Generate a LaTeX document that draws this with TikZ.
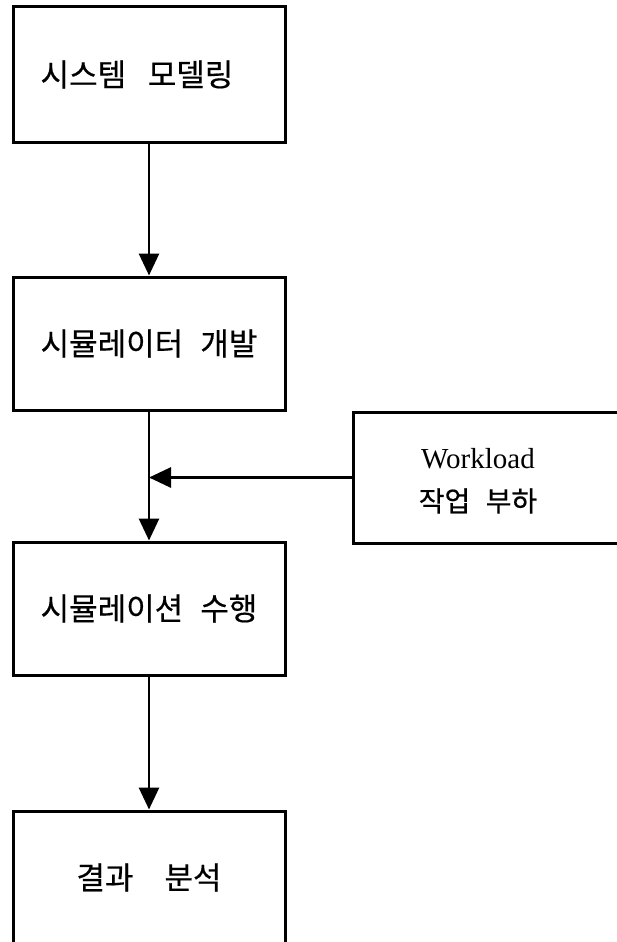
\documentclass[tikz,border=0pt]{standalone}
\usepackage{fontspec}
\setmainfont{Liberation Serif}
\newfontfamily\kr[FakeBold=0.5]{Noto Sans CJK KR}
\usetikzlibrary{arrows.meta}
\begin{document}
\begin{tikzpicture}[x=1pt,y=-1pt,
  stage/.style={draw, line width=3pt, minimum width=272pt, minimum height=133pt,
    inner sep=0pt, font=\kr\fontsize{31}{36}\selectfont},
  inputbox/.style={draw, line width=3pt, minimum width=290pt, minimum height=131pt, inner sep=0pt},
  label/.style={align=center, font=\fontsize{29}{43}\selectfont},
  flow/.style={line width=2.8pt, -{Triangle[length=22pt,width=20pt]}},
]
\useasboundingbox (0,0) rectangle (617,942);
\clip (0,0) rectangle (617,942);

% process stages
\node[stage, minimum height=135pt] (model) at (149,74.5) {시스템\hspace{0.7em}모델링\hspace*{24pt}};
\node[stage] (dev)  at (149,343.5) {시뮬레이터\hspace{0.55em}개발};
\node[stage] (run)  at (149,608.5) {시뮬레이션\hspace{0.55em}수행};
\node[stage] (ana)  at (149,877.5) {결과\hspace{1.0em}분석};

% workload input
\node[inputbox] (wl) at (498,477.5) {};
\node[label] (wltext) at (478,481) {Workload\\{\kr\fontsize{28}{43}\selectfont 작업\hspace{0.55em}부하}};

% connectors
\draw[flow] (model.south) -- (dev.north);
\draw[flow] (dev.south) -- (run.north);
\coordinate (join) at (dev.south |- wl.west);
\draw[flow] (wl.west) -- (join);
\draw[flow] (run.south) -- (ana.north);
\end{tikzpicture}
\end{document}
